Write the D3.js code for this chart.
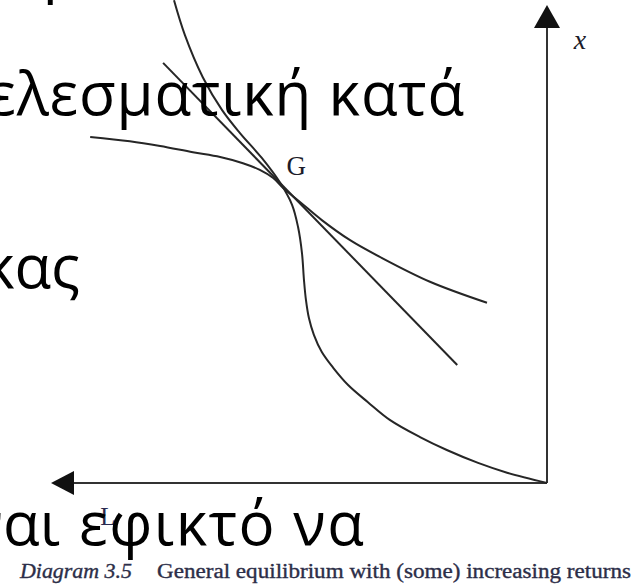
<!DOCTYPE html>
<html>
<head>
<meta charset="utf-8">
<script src="https://cdn.jsdelivr.net/npm/d3@7"></script>
<style>
  html, body { margin: 0; padding: 0; background: #fff; overflow: hidden; }
  svg { display: block; }
</style>
</head>
<body>
<svg id="chart" width="638" height="586"></svg>
<script>
// ---- data (L measured leftwards from origin, x upwards) ----
const ppfL = [7.52, 7.30, 6.94, 6.55, 6.19, 5.75, 5.38, 5.14, 5.02, 4.94, 4.90, 4.86, 4.80, 4.70, 4.54, 4.31, 4.01, 3.61, 3.17, 2.56, 2.02, 1.39, 0.79, 0];
const ppfX = [10.10, 9.37, 8.49, 7.80, 7.32, 6.80, 6.28, 5.82, 5.36, 4.81, 4.25, 3.83, 3.45, 3.10, 2.74, 2.41, 2.05, 1.69, 1.32, 0.96, 0.69, 0.42, 0.21, 0];
const indL = [9.21, 8.41, 7.80, 7.14, 6.59, 6.13, 5.79, 5.52, 5.32, 4.98, 4.54, 3.97, 3.37, 2.36, 1.21];
const indX = [7.24, 7.15, 7.05, 6.92, 6.82, 6.69, 6.55, 6.38, 6.17, 5.88, 5.50, 5.08, 4.73, 4.21, 3.77];
const priceL = [7.74, 1.81];
const priceX = [8.79, 2.47];
const pointG = { label: "G", L: 5.38, x: 6.28 };
const axisMax = 10;
const axisLabels = { x: "x", L: "L" };
const slideLines = [
  "ρ", ")",
  "αποτελεσματική κατά",
  "κας",
  "είναι", "εφικτό να"
];
const captionNum = "Diagram 3.5";
const captionText = "General equilibrium with (some) increasing returns";

// ---- scales ----
const sL = d3.scaleLinear().domain([0, axisMax]).range([547, 51]);
const sX = d3.scaleLinear().domain([0, axisMax]).range([483, 5]);

const svg = d3.select("#chart");
const g = svg.append("g");
const ink = "#262626";

const line = d3.line().x(d => sL(d[0])).y(d => sX(d[1])).curve(d3.curveCatmullRom.alpha(0.5));
const zip = (a, b) => a.map((v, i) => [v, b[i]]);

// axes
g.append("line").attr("x1", sL(0)).attr("y1", sX(0)).attr("x2", sL(0)).attr("y2", sX(axisMax) + 20)
  .attr("stroke", "#333").attr("stroke-width", 2);
g.append("line").attr("x1", sL(0)).attr("y1", sX(0)).attr("x2", sL(axisMax) + 20).attr("y2", sX(0))
  .attr("stroke", "#333").attr("stroke-width", 2);
// arrowheads
g.append("path")
  .attr("d", `M${sL(0)},${sX(axisMax)} L${sL(0) - 13},${sX(axisMax) + 23} L${sL(0) + 13},${sX(axisMax) + 23} Z`)
  .attr("fill", "#111");
g.append("path")
  .attr("d", `M${sL(axisMax)},${sX(0)} L${sL(axisMax) + 23},${sX(0) - 12} L${sL(axisMax) + 23},${sX(0) + 12} Z`)
  .attr("fill", "#111");

// curves
g.append("path").attr("d", line(zip(ppfL, ppfX))).attr("fill", "none").attr("stroke", ink).attr("stroke-width", 2);
g.append("path").attr("d", line(zip(indL, indX))).attr("fill", "none").attr("stroke", ink).attr("stroke-width", 2);
g.append("path").attr("d", d3.line().x(d => sL(d[0])).y(d => sX(d[1]))(zip(priceL, priceX)))
  .attr("fill", "none").attr("stroke", ink).attr("stroke-width", 2);

// labels
const serif = "'Liberation Serif', 'DejaVu Serif', serif";
g.append("text").text(pointG.label).attr("x", sL(pointG.L) + 16).attr("y", sX(pointG.x) - 8)
  .attr("text-anchor", "middle").attr("font-family", serif).attr("font-size", 27).attr("fill", "#1c1c2a");
g.append("text").text(axisLabels.x).attr("x", sL(0) + 33).attr("y", 49)
  .attr("text-anchor", "middle").attr("font-family", serif).attr("font-style", "italic").attr("font-size", 28).attr("fill", "#1c1c2a");
g.append("text").text(axisLabels.L).attr("x", 108).attr("y", 525)
  .attr("text-anchor", "middle").attr("font-family", serif).attr("font-size", 25).attr("fill", "#2a2a50");

// caption
g.append("text").text(captionNum).attr("x", 20).attr("y", 578)
  .attr("font-family", serif).attr("font-style", "italic").attr("font-size", 20).attr("fill", "#2c2e48")
  .attr("stroke", "#2c2e48").attr("stroke-width", 0.35)
  .attr("textLength", 112).attr("lengthAdjust", "spacingAndGlyphs");
g.append("text").text(captionText).attr("x", 157).attr("y", 578)
  .attr("font-family", serif).attr("font-size", 20).attr("fill", "#2c2e48")
  .attr("stroke", "#2c2e48").attr("stroke-width", 0.35)
  .attr("textLength", 474).attr("lengthAdjust", "spacingAndGlyphs");

// slide text on top
const sans = "'Open Sans', 'Noto Sans', sans-serif";
const st = svg.append("g").attr("font-family", sans).attr("font-size", 60).attr("fill", "#000");
st.append("text").text(slideLines[0]).attr("x", 43).attr("y", -10);
st.append("text").text(slideLines[1]).attr("x", 206).attr("y", -10);
st.append("text").text(slideLines[2]).attr("x", 465).attr("y", 115).attr("text-anchor", "end").attr("letter-spacing", 0.8);
st.append("text").text(slideLines[3]).attr("x", 80).attr("y", 288).attr("text-anchor", "end");
st.append("text").text(slideLines[4]).attr("x", 60).attr("y", 545).attr("text-anchor", "end");
st.append("text").text(slideLines[5]).attr("x", 79).attr("y", 545)
  .attr("textLength", 285).attr("lengthAdjust", "spacing");
</script>
</body>
</html>
